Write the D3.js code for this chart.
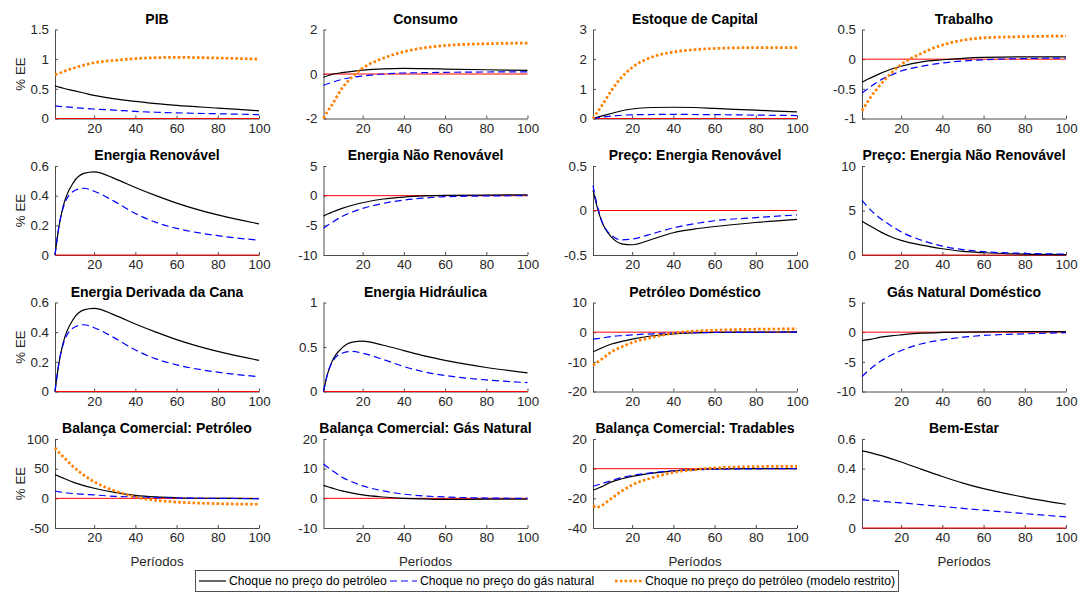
<!DOCTYPE html>
<html lang="pt">
<head>
<meta charset="UTF-8">
<title>Choques de preço</title>
<script src="https://d3js.org/d3.v7.min.js"></script>
<style>
  body { margin: 0; background: #fff; font-family: "Liberation Sans", Arial, sans-serif; }
  .tick text { font-size: 13.3px; fill: #262626; }
  .tick line, .domain { stroke: #4d4d4d; }
  .title { font-size: 14px; font-weight: bold; fill: #000; }
  .lbl { font-size: 13.3px; fill: #262626; }
</style>
</head>
<body>
<svg id="chart" width="1078" height="592"></svg>
<script>
// periods
const periods = [1, 3, 5, 10, 15, 20, 30, 40, 50, 60, 80, 100];

const pibPet   = [0.55, 0.53, 0.51, 0.47, 0.43, 0.39, 0.33, 0.29, 0.25, 0.22, 0.175, 0.13];
const pibGas   = [0.21, 0.205, 0.2, 0.185, 0.17, 0.16, 0.14, 0.12, 0.105, 0.095, 0.08, 0.065];
const pibRes   = [0.74, 0.76, 0.79, 0.85, 0.9, 0.94, 0.98, 1.01, 1.025, 1.03, 1.02, 1.0];

const consPet  = [-0.15, -0.08, -0.02, 0.06, 0.12, 0.17, 0.23, 0.25, 0.24, 0.22, 0.19, 0.16];
const consGas  = [-0.51, -0.44, -0.38, -0.24, -0.15, -0.09, 0.0, 0.045, 0.06, 0.075, 0.09, 0.1];
const consRes  = [-2.0, -1.67, -1.4, -0.64, -0.12, 0.26, 0.71, 1.0, 1.18, 1.28, 1.36, 1.39];

const capPet   = [0, 0.04, 0.08, 0.17, 0.26, 0.32, 0.37, 0.38, 0.37, 0.34, 0.28, 0.22];
const capGas   = [0, 0.02, 0.04, 0.08, 0.11, 0.125, 0.135, 0.14, 0.135, 0.13, 0.115, 0.1];
const capRes   = [0, 0.2, 0.4, 0.95, 1.4, 1.72, 2.08, 2.24, 2.32, 2.36, 2.39, 2.39];

const trabPet  = [-0.39, -0.35, -0.32, -0.24, -0.17, -0.12, -0.045, -0.01, 0.015, 0.03, 0.04, 0.04];
const trabGas  = [-0.57, -0.52, -0.47, -0.35, -0.27, -0.2, -0.12, -0.065, -0.03, -0.01, 0.01, 0.02];
const trabRes  = [-0.87, -0.76, -0.65, -0.43, -0.24, -0.09, 0.1, 0.24, 0.32, 0.36, 0.38, 0.39];

const renPet   = [0, 0.2, 0.33, 0.49, 0.55, 0.56, 0.515, 0.455, 0.4, 0.35, 0.27, 0.21];
const renGas   = [0, 0.2, 0.32, 0.43, 0.45, 0.43, 0.36, 0.28, 0.22, 0.18, 0.13, 0.1];

const naoRenPet = [-3.45, -3.1, -2.8, -2.15, -1.62, -1.2, -0.56, -0.23, -0.05, 0.05, 0.1, 0.15];
const naoRenGas = [-5.5, -5.0, -4.55, -3.5, -2.75, -2.15, -1.3, -0.73, -0.4, -0.17, -0.05, 0.0];

const precoRenPet = [0.23, 0.04, -0.11, -0.3, -0.375, -0.385, -0.32, -0.25, -0.21, -0.18, -0.135, -0.1];
const precoRenGas = [0.28, 0.06, -0.1, -0.28, -0.33, -0.32, -0.26, -0.195, -0.15, -0.115, -0.08, -0.05];

const precoNaoPet = [3.8, 3.5, 3.25, 2.6, 2.05, 1.65, 1.1, 0.7, 0.4, 0.25, 0.1, 0.05];
const precoNaoGas = [6.15, 5.6, 5.1, 4.1, 3.3, 2.6, 1.65, 1.0, 0.6, 0.37, 0.18, 0.1];

const canaPet  = [0, 0.2, 0.33, 0.49, 0.55, 0.56, 0.515, 0.455, 0.4, 0.35, 0.27, 0.21];
const canaGas  = [0, 0.2, 0.32, 0.43, 0.45, 0.43, 0.36, 0.28, 0.22, 0.18, 0.13, 0.1];

const hidroPet = [0, 0.2, 0.33, 0.49, 0.555, 0.565, 0.52, 0.46, 0.4, 0.35, 0.27, 0.21];
const hidroGas = [0, 0.2, 0.32, 0.43, 0.45, 0.43, 0.36, 0.28, 0.22, 0.18, 0.13, 0.1];

const petDomPet = [-6.6, -6.0, -5.4, -4.0, -3.1, -2.35, -1.2, -0.55, -0.25, -0.1, 0.0, 0.1];
const petDomGas = [-2.35, -2.15, -2.0, -1.45, -1.15, -0.9, -0.55, -0.25, -0.15, -0.1, -0.05, 0.0];
const petDomRes = [-11.2, -10.2, -9.2, -6.6, -4.9, -3.5, -1.7, -0.35, 0.35, 0.65, 1.0, 1.1];

const gasDomPet = [-1.45, -1.3, -1.2, -0.85, -0.62, -0.45, -0.17, -0.05, 0.02, 0.05, 0.08, 0.1];
const gasDomGas = [-7.5, -6.8, -6.2, -4.9, -3.9, -3.1, -1.95, -1.3, -0.85, -0.55, -0.28, -0.1];

const bcPetPet = [40, 37, 34, 27, 21.5, 17, 10, 5, 2.3, 1, 0, -0.5];
const bcPetGas = [12, 11, 10, 8, 6.8, 5.7, 3.4, 2.3, 1.3, 0.6, 0, -0.5];
const bcPetRes = [85, 77, 70, 53, 39, 28, 12.6, 2.3, -3.4, -6.3, -9, -10];

const bcGasPet = [4.35, 3.9, 3.5, 2.5, 1.75, 1.15, 0.45, 0, -0.2, -0.35, -0.3, -0.25];
const bcGasGas = [11.6, 10.5, 9.5, 7.1, 5.5, 4.2, 2.5, 1.4, 0.8, 0.45, 0.1, 0.0];

const bcTradPet = [-14.4, -13.5, -12.3, -8.9, -6.8, -5.2, -3.0, -1.6, -0.7, -0.2, 0, 0];
const bcTradGas = [-12, -11, -10.2, -8, -6, -4.5, -2.7, -1.4, -0.8, -0.4, -0.1, 0];
const bcTradRes = [-25, -26, -25, -20, -15, -11, -6, -2.5, -0.7, 0.5, 1.4, 1.6];

const bemPet   = [0.52, 0.515, 0.508, 0.49, 0.468, 0.445, 0.395, 0.347, 0.303, 0.265, 0.207, 0.16];
const bemGas   = [0.19, 0.188, 0.186, 0.18, 0.175, 0.17, 0.157, 0.145, 0.132, 0.12, 0.097, 0.075];

const titles = ["PIB", "Consumo", "Estoque de Capital", "Trabalho",
  "Energia Renovável", "Energia Não Renovável", "Preço: Energia Renovável", "Preço: Energia Não Renovável",
  "Energia Derivada da Cana", "Energia Hidráulica", "Petróleo Doméstico", "Gás Natural Doméstico",
  "Balança Comercial: Petróleo", "Balança Comercial: Gás Natural", "Balança Comercial: Tradables", "Bem-Estar"];

const yTicks = [
  [0, 0.5, 1, 1.5], [-2, 0, 2], [0, 1, 2, 3], [-1, -0.5, 0, 0.5],
  [0, 0.2, 0.4, 0.6], [-10, -5, 0, 5], [-0.5, 0, 0.5], [0, 5, 10],
  [0, 0.2, 0.4, 0.6], [0, 0.5, 1], [-20, -10, 0, 10], [-10, -5, 0, 5],
  [-50, 0, 50, 100], [-10, 0, 10, 20], [-40, -20, 0, 20], [0, 0.2, 0.4, 0.6]];

const xTicks = [20, 40, 60, 80, 100];

const legendLabels = ["Choque no preço do petróleo", "Choque no preço do gás natural",
  "Choque no preço do petróleo (modelo restrito)"];

// [petróleo, gás natural, restrito] per panel
const seriesByPanel = [
  [pibPet, pibGas, pibRes], [consPet, consGas, consRes], [capPet, capGas, capRes], [trabPet, trabGas, trabRes],
  [renPet, renGas, null], [naoRenPet, naoRenGas, null], [precoRenPet, precoRenGas, null], [precoNaoPet, precoNaoGas, null],
  [canaPet, canaGas, null], [hidroPet, hidroGas, null], [petDomPet, petDomGas, petDomRes], [gasDomPet, gasDomGas, null],
  [bcPetPet, bcPetGas, bcPetRes], [bcGasPet, bcGasGas, null], [bcTradPet, bcTradGas, bcTradRes], [bemPet, bemGas, null]];

const styles = [
  { color: "#000000", width: 1.2, dash: null },
  { color: "#0000ff", width: 1.2, dash: "7,4" },
  { color: "#ff8000", width: 2.7, dash: "2.6,2.2" }];

const colX = [55, 323.5, 593, 862];
const rowY = [29.5, 166, 302.5, 439];
const W = 204, H = 89;

const svg = d3.select("#chart");

const x = d3.scaleLinear().domain([1, 100]).range([0, W]);

titles.forEach((title, i) => {
  const col = i % 4, row = Math.floor(i / 4);
  const g = svg.append("g").attr("transform", `translate(${colX[col]},${rowY[row]})`);
  const ticks = yTicks[i];
  const y = d3.scaleLinear().domain(d3.extent(ticks)).range([H, 0]);

  g.append("g")
    .attr("transform", `translate(0,${H})`)
    .call(d3.axisBottom(x).tickValues(xTicks).tickSizeInner(-3).tickSizeOuter(0).tickPadding(5));

  g.append("g")
    .call(d3.axisLeft(y).tickValues(ticks).tickSizeInner(-3).tickSizeOuter(0).tickPadding(6)
      .tickFormat(d => String(d)));

  g.selectAll(".tick text").attr("font-family", "'Liberation Sans', Arial, sans-serif");

  // zero reference line
  g.append("line")
    .attr("x1", x(1)).attr("x2", x(100))
    .attr("y1", y(0)).attr("y2", y(0))
    .attr("stroke", "#ff0000").attr("stroke-width", 1);

  const line = d3.line()
    .x((d, k) => x(periods[k]))
    .y(d => y(d))
    .curve(d3.curveMonotoneX);

  seriesByPanel[i].forEach((vals, s) => {
    if (!vals) return;
    g.append("path")
      .datum(vals)
      .attr("fill", "none")
      .attr("stroke", styles[s].color)
      .attr("stroke-width", styles[s].width)
      .attr("stroke-dasharray", styles[s].dash)
      .attr("d", line);
  });

  g.append("text")
    .attr("class", "title")
    .attr("x", W / 2).attr("y", -6)
    .attr("text-anchor", "middle")
    .text(title);

  if (col === 0) {
    g.append("text")
      .attr("class", "lbl")
      .attr("transform", `translate(${20 - colX[0]},${H / 2}) rotate(-90)`)
      .attr("text-anchor", "middle")
      .attr("dy", "0.35em")
      .text("% EE");
  }
  if (row === 3) {
    g.append("text")
      .attr("class", "lbl")
      .attr("x", W / 2).attr("y", H + 38)
      .attr("text-anchor", "middle")
      .text("Períodos");
  }
});

// legend
const leg = svg.append("g");
leg.append("rect")
  .attr("x", 195.5).attr("y", 570.5).attr("width", 703).attr("height", 21)
  .attr("fill", "#fff").attr("stroke", "#262626").attr("stroke-width", 0.8);

const legX = [199, 390, 615];
legendLabels.forEach((lab, s) => {
  leg.append("line")
    .attr("x1", legX[s]).attr("x2", legX[s] + 27)
    .attr("y1", 581).attr("y2", 581)
    .attr("stroke", styles[s].color)
    .attr("stroke-width", styles[s].width)
    .attr("stroke-dasharray", styles[s].dash);
  leg.append("text")
    .attr("x", legX[s] + 30).attr("y", 581)
    .attr("dy", "0.35em")
    .attr("font-size", "12.2px")
    .attr("fill", "#000")
    .text(lab);
});
</script>
</body>
</html>
